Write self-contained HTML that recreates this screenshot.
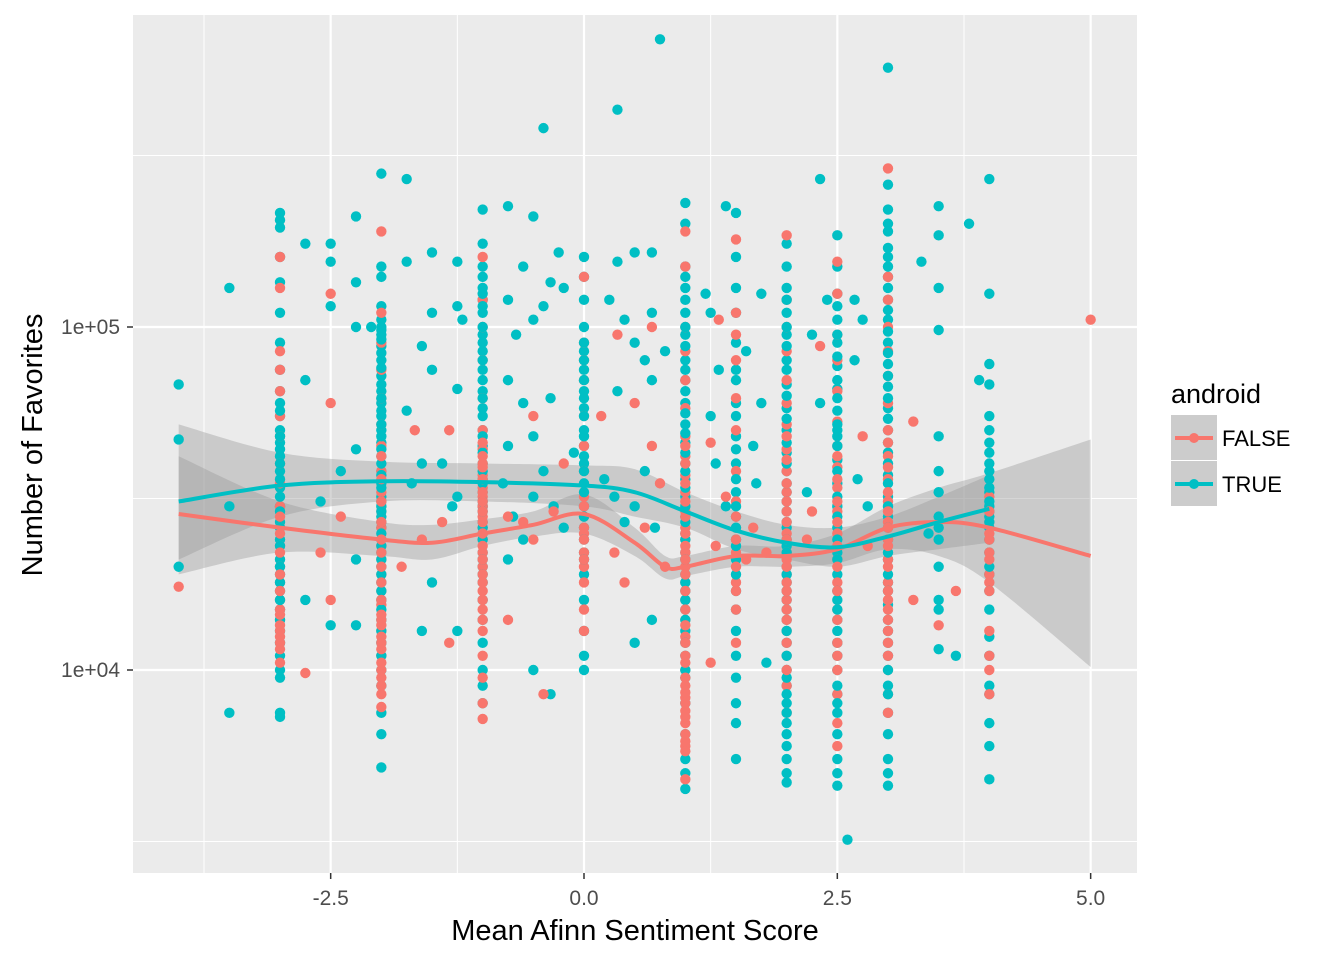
<!DOCTYPE html>
<html><head><meta charset="utf-8"><style>
body{margin:0;background:#fff;}
svg text{font-family:"Liberation Sans",sans-serif;}
</style></head><body>
<svg id="chart" width="1344" height="960" xmlns="http://www.w3.org/2000/svg">
<rect x="0" y="0" width="1344" height="960" fill="#fff"/>
<rect x="133" y="15" width="1004" height="858" fill="#ebebeb"/>
<g id="grid"></g>
<g id="bands"></g>
<g id="pts"></g>
<g id="lines"></g>
<g id="axes"></g>
<text x="635" y="940" font-size="29" text-anchor="middle" fill="#000">Mean Afinn Sentiment Score</text>
<text transform="translate(42,445) rotate(-90)" font-size="29" text-anchor="middle" fill="#000">Number of Favorites</text>
<g>
<text x="1171" y="403" font-size="27" fill="#000">android</text>
<rect x="1171" y="415" width="46" height="45" fill="#cccccc"/>
<line x1="1175" y1="438" x2="1213" y2="438" stroke="#F8766D" stroke-width="4"/>
<circle cx="1194" cy="438" r="5" fill="#F8766D"/>
<text x="1222" y="446" font-size="22" fill="#000">FALSE</text>
<rect x="1171" y="461" width="46" height="45" fill="#cccccc"/>
<line x1="1175" y1="484" x2="1213" y2="484" stroke="#00BFC4" stroke-width="4"/>
<circle cx="1194" cy="484" r="5" fill="#00BFC4"/>
<text x="1222" y="492" font-size="22" fill="#000">TRUE</text>
</g>
</svg>
<script>
const xTicks=[-2.5,0,2.5,5];
const xTickLabels=["-2.5","0.0","2.5","5.0"];
const yTicks=[10000,100000];
const yTickLabels=["1e+04","1e+05"];
const tealCols=[
[-3,[215,205,195,160,135,110,90,75,65,60,55,50,46,42,38,34,30,27,24,21,19,17,15,13,12,11,10,9.5,7.5,7.3]],
[-2,[280,150,140,115,105,100,95,88,80,72,65,60,55,50,46,42,38,35,32,30,28,26,24,22,20,18,16,14,12,10,9,7.5,6.5,5.2]],
[-1,[220,175,150,130,120,110,95,85,75,65,58,50,45,40,36,33,30,27,25,22,20,18,16,14,12,10,9,8]],
[0,[160,140,120,100,85,75,65,58,50,45,40,35,30,26,22,19,16,13,11,10]],
[1,[230,200,150,130,110,95,80,70,60,52,46,40,36,32,28,25,22,19,17,15,13,11,9.5,8,6.5,5.5,5,4.5]],
[1.5,[215,160,130,110,90,75,60,48,40,33,28,24,21,17,15,13,11,9.5,8,7,5.5]],
[2,[175,150,130,110,95,80,68,58,50,43,38,33,29,26,23,20,18,16,14,12,10,9,8,7,6,5.5,5,4.7]],
[2.5,[185,150,125,105,90,77,66,57,48,41,35,30,26,22,19,16,14,12,10,8.5,7.5,6.5,5.5,5,4.6]],
[3,[570,260,220,190,160,140,120,105,90,78,67,58,50,43,37,32,28,24,21,18,15.5,13,11,9,7.5,6.5,5.5,5,4.6]],
[3.5,[225,185,130,98,48,38,33,28,26,24,20,16,15,11.5]],
[4,[270,125,78,68,55,46,40,36,33,30,28,26,22,19,15,12.5,11,9,8.5,7,6,4.8]]];
const tealDense=[
[-3,[57,48,44,40,36,32,29,26,23,20,18,16,14]],
[-2,[98,92,84,76,68,62,57,52,48,44,40,37,34,31,29,27,25,23,21,19,17,15,13,11]],
[-1,[140,125,115,100,90,80,70,62,55,48,43,38,35,31,29,26,24,21,19]],
[0,[90,80,70,62,55,48,42,38,33,28,24,21]],
[1,[140,120,100,88,75,65,56,49,43,38,34,30,27,24,21,18,16,14,12,10]],
[1.5,[70,55,44,36,30,26,23,19]],
[2,[120,100,88,75,63,54,46,40,35,31,27,24,22,19,17,15,13,11,9.5,8.5,7.5,6.5]],
[2.5,[115,95,82,70,62,52,45,38,32,28,24,21,17,15,13,11,9,8]],
[3,[200,170,150,130,112,97,84,72,62,54,46,40,35,30,26,22,19,17,14,12,10,8.5]],
[4,[50,43,38,34,31,29,27,24,20,17]]];
const redCols=[
[-3,[160,130,85,75,65,55,48,40,35,30,26,23,20,18,16,15,14,13,12,11.5,10.5]],
[-2,[190,110,90,75,62,52,45,38,33,29,26,23,21,19,17,15.5,14,13,12,11,10,9.5,8.5,7.8]],
[-1,[160,120,100,80,62,50,44,40,37,34,32,30,28,26,24,22,20,17,15,13,11,9.5,8,7.2]],
[0,[140,90,80,70,55,45,38,32,28,25,22,20,18,15,13]],
[1,[190,150,100,85,70,58,48,42,37,33,29,26,24,22,20,18,16,14,12.5,11,10,9,8.3,7.6,7,6,5.8,4.8]],
[1.5,[180,110,95,80,62,50,38,31,26,22,18,15,12]],
[2,[185,120,100,85,70,60,52,44,38,33,29,25,22,19,16,13,11,9,7.5]],
[2.5,[155,125,95,80,65,53,45,39,34,29,25,21,18,15,12,10,8.5,7,6]],
[3,[290,140,120,100,85,72,60,50,42,36,31,27,24,21,18,15,13,10,8.5,7.5]],
[3.5,[13.5]],
[4,[32,27,22,19,18,13,11,10,8.5]]];
const redDense=[
[-3,[28,25,22,19,17,14.5,13.5,12.5]],
[-2,[42,36,31,27,24,22,20,18,16,14.5,13.5,12.5,11.5,10.5,9]],
[-1,[46,42,39,36,33,31,29,27,25,23,21,19,18,16,14]],
[0,[30,26,24,21]],
[1,[45,40,35,31,28,25,23,21,19,17,15,13.5,12,10.5,9.5,8.6,8,7.3,6.5,6.2]],
[1.5,[28,24,20,17]],
[2,[48,41,35,31,27,24,21,20,18,17,15,14,12,10]],
[2.5,[42,36,31,27,23,20,17,14,11]],
[3,[46,39,33,29,26,23,20,17,16,14,12,11]],
[4,[29,25,24,21,17]]];
const tealExtra=[[-4,68],[-4,47],[-4,20],[-3.5,130],[-3.5,30],[-3.5,7.5],[-2.75,175],[-2.75,70],[-2.75,16],[-2.5,175],[-2.5,155],[-2.5,115],[-2.5,13.5],[-2.25,210],[-2.25,135],[-2.25,100],[-2.25,44],[-2.25,21],[-2.25,13.5],[-2.1,100],[-1.75,270],[-1.75,155],[-1.75,57],[-1.6,88],[-1.6,40],[-1.6,13],[-1.5,165],[-1.5,110],[-1.5,75],[-1.5,18],[-1.25,155],[-1.25,115],[-1.25,66],[-1.25,32],[-1.25,13],[-1.2,105],[-0.75,225],[-0.75,120],[-0.75,70],[-0.75,45],[-0.75,21],[-0.67,95],[-0.6,150],[-0.6,60],[-0.5,210],[-0.5,105],[-0.5,48],[-0.5,10],[-0.4,380],[-0.4,115],[-0.33,135],[-0.33,62],[-0.33,8.5],[-0.25,165],[-0.2,130],[-0.1,43],[0.25,120],[0.33,430],[0.33,155],[0.33,65],[0.4,105],[0.5,165],[0.5,90],[0.5,12],[0.6,80],[0.67,165],[0.67,110],[0.67,70],[0.67,14],[0.75,690],[0.8,85],[1.2,125],[1.25,110],[1.25,55],[1.33,75],[1.4,225],[1.6,85],[1.67,45],[1.75,125],[1.75,60],[1.8,10.5],[2.25,95],[2.33,270],[2.33,60],[2.4,120],[2.5,50],[2.6,3.2],[2.67,120],[2.67,80],[2.75,105],[3.33,155],[3.67,11],[3.8,200],[3.9,70],
[-0.8,35],[-0.7,28],[-0.6,24],[-0.5,32],[-0.4,38],[-0.3,30],[-0.2,26],[0.2,36],[0.3,32],[0.4,27],[0.5,30],[0.6,38],[0.7,26],[-1.4,40],[-1.3,30],[-1.7,35],[1.3,40],[1.4,30],[1.7,35],[2.2,33],[2.7,36],[2.8,30],[3.4,25],[-2.4,38],[-2.6,31]];
const redExtra=[[-4,17.5],[-2.75,9.8],[-2.5,125],[-2.5,60],[-2.5,16],[-1.67,50],[-1.33,50],[-1.33,12],[-0.75,28],[-0.75,14],[-0.5,55],[-0.4,8.5],[-0.2,40],[0.33,95],[0.5,60],[0.67,100],[0.67,45],[0.75,35],[0.8,20],[1.25,46],[1.33,105],[1.4,32],[1.67,26],[1.8,22],[2.25,29],[2.33,88],[2.75,48],[3.25,53],[3.25,16],[3.67,17],[5,105],[-1.8,20],[0.17,55],[1.25,10.5],
[-0.6,27],[-0.5,24],[-0.3,29],[0.3,22],[0.4,18],[0.6,26],[-1.4,27],[-1.6,24],[1.3,23],[1.6,21],[2.2,24],[2.8,23],[-2.4,28],[-2.6,22]];
const tealFitX=[-4,-3,-2,-1,0,0.5,1,1.5,2,2.5,3,3.5,4];
const tealFit=[31,34.5,35.5,35.3,34.5,33,29,25.5,23.5,22.8,24.5,27,29.5];
const tealLo=[21,28,31,31,30,28,26,22.5,21,20,21.5,22.5,23.5];
const tealHi=[52,43,40.5,40,39.5,38.5,33,29,26.5,26,28,32,37];
const redFitX=[-4,-3,-2,-1.5,-1,-0.5,0,0.5,0.8,1,1.5,2,2.5,3,3.5,4,5];
const redFit=[28.5,26,24,23.5,25,26.5,28.5,23.5,20,20,21.5,21.5,22.5,26,27,26,21.5];
const redLo=[19,22,21.5,21,23,24.5,25,21.5,18.5,18.8,20,20,20.5,22.5,21.5,18,10.2];
const redHi=[42,31,27,26.5,27.5,29,32.5,26,21.5,21.5,23,23,25,30,34,37.5,47];
const NS="http://www.w3.org/2000/svg";
const X=v=>584+v*101.33;
const Y=k=>327-(Math.log10(k*1000)-5)*343;
function mk(tag,at,parent){const e=document.createElementNS(NS,tag);for(const a in at)e.setAttribute(a,at[a]);document.getElementById(parent).appendChild(e);return e;}
[-3.75,-1.25,1.25,3.75].forEach(v=>{const l=mk('line',{x1:X(v),x2:X(v),y1:15,y2:873,stroke:'#fff','stroke-width':1},'grid');

});
[3.5,4.5,5.5].forEach(v=>{const y=327-(v-5)*343;const l=mk('line',{x1:133,x2:1137,y1:y,y2:y,stroke:'#fff','stroke-width':1},'grid');

});
xTicks.forEach(v=>{const l=mk('line',{x1:X(v),x2:X(v),y1:15,y2:873,stroke:'#fff','stroke-width':2.2},'grid');

});
yTicks.forEach(v=>{const y=Y(v/1000);const l=mk('line',{x1:133,x2:1137,y1:y,y2:y,stroke:'#fff','stroke-width':2.2},'grid');

});
xTicks.forEach((v,i)=>{const t=mk('line',{x1:X(v),x2:X(v),y1:873,y2:879,stroke:'#333','stroke-width':1.5},'axes');


const s=mk('text',{x:X(v),y:905,'font-size':21,'text-anchor':'middle',fill:'#4d4d4d'},'axes');s.textContent=xTickLabels[i];

});
yTicks.forEach((v,i)=>{const y=Y(v/1000);const t=mk('line',{x1:127,x2:133,y1:y,y2:y,stroke:'#333','stroke-width':1.5},'axes');


const s=mk('text',{x:120,y:y+7,'font-size':21,'text-anchor':'end',fill:'#4d4d4d'},'axes');s.textContent=yTickLabels[i];

});
function dot(x,k,c,name){const e=mk('circle',{cx:X(x),cy:Y(k),r:5.2,fill:c},'pts');

}
tealCols.forEach(([x,vs])=>vs.forEach(k=>dot(x,k,'#00BFC4','point-true')));
tealExtra.forEach(([x,k])=>dot(x,k,'#00BFC4','point-true'));
redCols.forEach(([x,vs])=>vs.forEach(k=>dot(x,k,'#F8766D','point-false')));
redExtra.forEach(([x,k])=>dot(x,k,'#F8766D','point-false'));
tealDense.forEach(([x,vs])=>vs.forEach(k=>dot(x,k,'#00BFC4','point-true')));
redDense.forEach(([x,vs])=>vs.forEach(k=>dot(x,k,'#F8766D','point-false')));
function smoothPath(xs,ys){let p=xs.map((x,i)=>[X(x),Y(ys[i])]);let d='M'+p[0][0]+','+p[0][1];
for(let i=0;i<p.length-1;i++){const p0=p[Math.max(0,i-1)],p1=p[i],p2=p[i+1],p3=p[Math.min(p.length-1,i+2)];
const c1=[p1[0]+(p2[0]-p0[0])/6,p1[1]+(p2[1]-p0[1])/6],c2=[p2[0]-(p3[0]-p1[0])/6,p2[1]-(p3[1]-p1[1])/6];
d+=` C${c1[0]},${c1[1]} ${c2[0]},${c2[1]} ${p2[0]},${p2[1]}`;}return d;}
function band(xs,lo,hi,name){const up=smoothPath(xs,hi);const rx=xs.slice().reverse(),rl=lo.slice().reverse();
const dn=smoothPath(rx,rl).replace('M','L');const e=mk('path',{d:up+dn+'Z',fill:'#999999','fill-opacity':0.4},'bands');

}
band(redFitX,redLo,redHi,'band-false');
band(tealFitX,tealLo,tealHi,'band-true');
const lf=mk('path',{d:smoothPath(redFitX,redFit),fill:'none',stroke:'#F8766D','stroke-width':4},'lines');


const lt=mk('path',{d:smoothPath(tealFitX,tealFit),fill:'none',stroke:'#00BFC4','stroke-width':4},'lines');


</script>
</body></html>
